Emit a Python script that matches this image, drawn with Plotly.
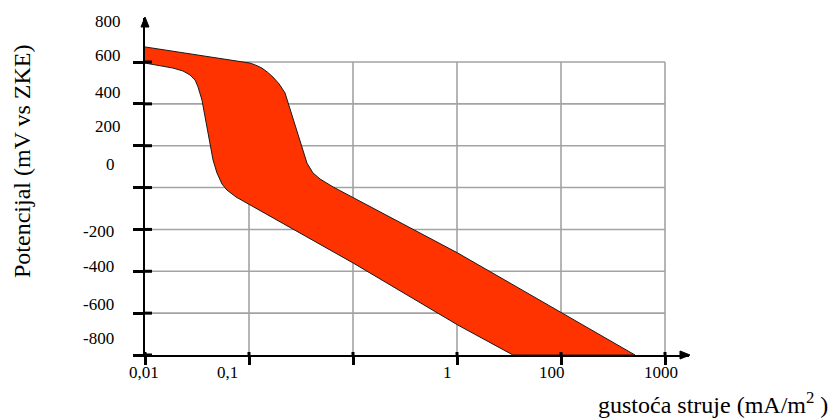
import math
import plotly.graph_objects as go

# ---------------- data ----------------
# upper (right) boundary of the band, current density mA/m^2 vs potential mV
upper_j = [0.01, 0.102, 0.116, 0.133, 0.150, 0.170, 0.195, 0.222, 0.361, 0.412, 0.482, 0.560, 0.643, 10.2, 515]
upper_E = [672, 595, 585, 571, 552, 528, 495, 452, 117, 70, 41, 20, 3, -313, -800]
# lower (left) boundary of the band
lower_j = [0.01, 0.0186, 0.0232, 0.0271, 0.0303, 0.0324, 0.0353, 0.0451, 0.0492, 0.055, 0.0614, 0.075, 0.0957, 1.0, 10.2, 34.5]
lower_E = [595, 571, 557, 538, 514, 480, 418, 132, 70, 17, -12, -45, -74, -360, -657, -800]

x_tick_vals = [0.01, 0.1, 1, 10, 100, 1000]
x_tick_text = ["0,01", "0,1", "", "1", "100", "1000"]
y_tick_vals = [-800, -600, -400, -200, 0, 200, 400, 600]
y_tick_text = ["800", "600", "400", "200", "0", "-200", "-400", "-600", "-800"]

x_title = "gustoća struje (mA/m<sup>2</sup> )"
y_title = "Potencijal (mV vs ZKE)"

# ---------------- layout geometry ----------------
W, H = 837, 419
L, R, T, B = 145, 837 - 689, 18, 419 - 355
PW, PH = W - L - R, H - T - B
X_RANGE = [-2, -2 + PW / 104.0]
Y_RANGE = [-800, -800 + PH / 41.857 * 200]

def px_x(px):
    return (px - L) / PW

def px_y(py):
    return (H - B - py) / PH

SERIF = "Liberation Serif"
GRID = "#A3A3A3"

fig = go.Figure()

# grid (only inside the 0,01..1000 x -800..600 rectangle)
gx, gy = [], []
for v in y_tick_vals[1:]:
    gx += [x_tick_vals[0], x_tick_vals[-1], None]
    gy += [v, v, None]
for v in x_tick_vals[1:]:
    gx += [v, v, None]
    gy += [y_tick_vals[0], y_tick_vals[-1], None]
fig.add_trace(go.Scatter(x=gx, y=gy, mode="lines",
                         line=dict(color=GRID, width=1.6),
                         hoverinfo="skip", showlegend=False))

# band polygon
poly_x = upper_j + lower_j[::-1]
poly_y = upper_E + lower_E[::-1]
fig.add_trace(go.Scatter(x=poly_x, y=poly_y, mode="lines", fill="toself",
                         fillcolor="#FF3300",
                         line=dict(color="#1a1a1a", width=1),
                         hoverinfo="skip", showlegend=False))

annotations = []
# x tick labels
x_lab_px = [144, 227, 353, 447, 552, 661]
for t, p in zip(x_tick_text, x_lab_px):
    if t:
        annotations.append(dict(text=t, xref="paper", yref="paper",
                                x=px_x(p), y=px_y(372), showarrow=False,
                                xanchor="center", yanchor="middle",
                                font=dict(family=SERIF, size=17, color="black")))
# y tick labels (placed where they appear)
y_lab_py = [22, 55, 92, 127, 164, 232, 266, 304, 338]
for t, p in zip(y_tick_text, y_lab_py):
    if t == "0":
        xa, xp = "center", 110
    elif t.startswith("-"):
        xa, xp = "right", 116
    else:
        xa, xp = "right", 123
    annotations.append(dict(text=t, xref="paper", yref="paper",
                            x=px_x(xp), y=px_y(p), showarrow=False,
                            xanchor=xa, yanchor="middle",
                            font=dict(family=SERIF, size=17, color="black")))
# axis titles
annotations.append(dict(text=y_title, xref="paper", yref="paper",
                        x=px_x(22), y=px_y(161), showarrow=False, textangle=-90,
                        xanchor="center", yanchor="middle",
                        font=dict(family=SERIF, size=24, color="black")))
annotations.append(dict(text=x_title, xref="paper", yref="paper",
                        x=px_x(713), y=px_y(403), showarrow=False,
                        xanchor="center", yanchor="middle",
                        font=dict(family=SERIF, size=24, color="black")))

shapes = []
# arrow heads at the axis ends
def tri(p):
    return "M " + " L ".join(f"{px_x(a):.5f},{px_y(b):.5f}" for a, b in p) + " Z"
shapes.append(dict(type="path", xref="paper", yref="paper",
                   path=tri([(145, 17), (141, 27), (149, 27)]),
                   fillcolor="black", line=dict(color="black", width=1)))
shapes.append(dict(type="path", xref="paper", yref="paper",
                   path=tri([(690, 355), (680, 351), (680, 359)]),
                   fillcolor="black", line=dict(color="black", width=1)))
# inner part of the y tick marks
for v in y_tick_vals:
    shapes.append(dict(type="line", xref="paper", yref="y",
                       x0=0, x1=7 / PW, y0=v, y1=v,
                       line=dict(color="black", width=3)))
# upper part of the x tick marks
for v in x_tick_vals:
    xp = (math.log10(v) - X_RANGE[0]) / (X_RANGE[1] - X_RANGE[0])
    shapes.append(dict(type="line", xref="paper", yref="paper",
                       x0=xp, x1=xp, y0=0, y1=3 / PH,
                       line=dict(color="black", width=3)))

fig.update_layout(
    width=W, height=H,
    margin=dict(l=L, r=R, t=T, b=B, pad=0),
    paper_bgcolor="white", plot_bgcolor="white",
    showlegend=False,
    annotations=annotations,
    shapes=shapes,
    xaxis=dict(type="log", range=X_RANGE, tickvals=x_tick_vals,
               showticklabels=False, ticks="outside", ticklen=8, tickwidth=3,
               tickcolor="black", showline=True, linecolor="black", linewidth=2,
               showgrid=False, zeroline=False, fixedrange=True),
    yaxis=dict(range=Y_RANGE, tickvals=y_tick_vals, showticklabels=False,
               ticks="outside", ticklen=10, tickwidth=3, tickcolor="black",
               showline=True, linecolor="black", linewidth=2,
               showgrid=False, zeroline=False, fixedrange=True),
)

fig.write_html("out.html", config={"displayModeBar": False},
               post_script="document.body.style.margin='0';")
